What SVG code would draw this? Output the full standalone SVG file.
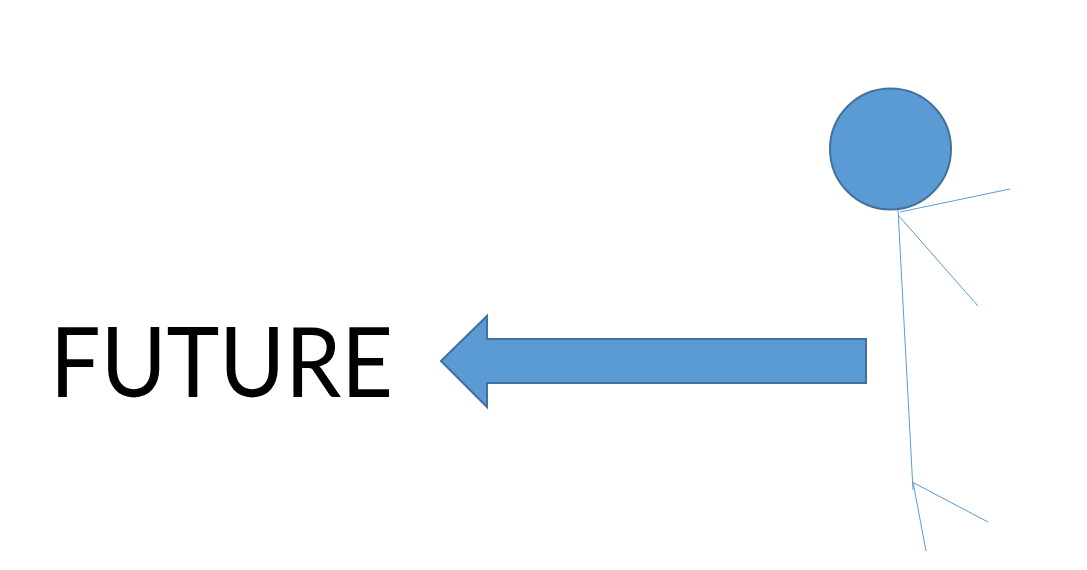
<svg xmlns="http://www.w3.org/2000/svg" width="1087" height="570" viewBox="0 0 1087 570">
<style>
.shape{fill:#5b9bd5;stroke:#41719c;stroke-width:2}
.limb{fill:none;stroke:#5b9bd5;stroke-width:1}
.label{font-family:"Lato","Open Sans","Liberation Sans",sans-serif;font-size:96px;fill:#000}
</style>
<rect width="1087" height="570" fill="#fff"/>
<g id="connectors">
<path class="limb" d="M900 212L1010 189"/>
<path class="limb" d="M898 215L978 306"/>
<path class="limb" d="M898 210L913 490"/>
<path class="limb" d="M914 483L988 522"/>
<path class="limb" d="M913 482L926 551"/>
</g>
<g id="head"><circle class="shape" cx="890.500" cy="149" r="60.500"/></g>
<g id="arrow"><path class="shape" d="M866 339V383H487V407L441 361L487 316V339Z"/></g>
<g id="future"><text class="label" x="50" y="397" textLength="343" lengthAdjust="spacingAndGlyphs">FUTURE</text></g>
</svg>
